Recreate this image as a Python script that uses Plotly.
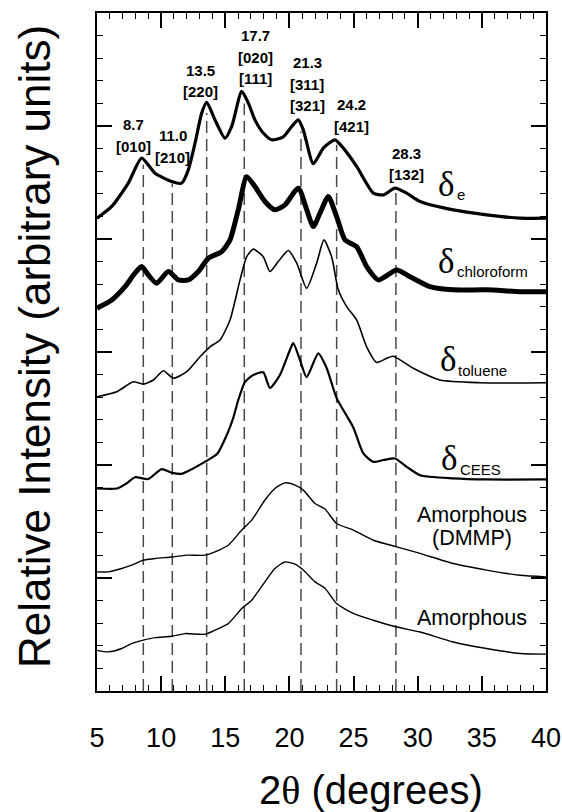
import plotly.graph_objects as go

# ---------------- data ----------------
# x = 2-theta (degrees); y = relative intensity (arbitrary units, stacked offsets)
de_x = [5.0, 6.15, 7.44, 8.48, 9.52, 10.82, 11.60, 12.12, 12.64, 13.16, 13.55, 14.20, 14.98,
        15.50, 16.28, 16.80, 17.31, 17.96, 18.62, 19.52, 20.18, 20.69, 21.08, 21.86, 22.64,
        23.55, 24.20, 25.24, 26.54, 27.32, 28.23, 29.14, 30.18, 32.77, 35.37, 37.97, 40.0]
de_y = [20.92, 21.44, 22.47, 23.58, 22.91, 22.54, 22.47, 23.06, 24.24, 25.57, 26.05, 25.27, 24.46,
        24.98, 26.53, 26.01, 25.27, 24.69, 24.39, 24.52, 24.98, 25.27, 24.83, 23.33, 24.02,
        24.39, 24.02, 23.21, 22.03, 21.95, 22.25, 22.03, 21.66, 21.29, 21.07, 20.92, 20.92]

chl_x = [5.0, 6.15, 7.18, 7.96, 8.48, 9.00, 9.65, 10.56, 11.34, 12.12, 12.90, 13.68, 14.72,
         15.37, 16.01, 16.67, 17.31, 18.09, 18.87, 19.65, 20.69, 21.35, 21.86, 22.38, 23.03,
         23.68, 24.33, 25.24, 26.02, 26.93, 28.36, 29.40, 30.95, 32.77, 35.37, 37.97, 40.0]
chl_y = [16.94, 17.30, 17.89, 18.49, 18.78, 18.41, 18.04, 18.56, 18.19, 18.19, 18.56, 19.15, 19.44,
         19.96, 21.29, 22.76, 22.32, 21.66, 21.29, 21.51, 22.25, 21.29, 20.55, 21.14, 21.88,
         20.99, 19.96, 19.66, 18.78, 18.19, 18.63, 18.33, 17.89, 17.75, 17.75, 17.67, 17.67]

tol_x = [5.0, 6.54, 7.83, 8.61, 9.39, 10.17, 10.95, 11.99, 13.03, 13.81, 14.59, 15.37, 16.15,
         16.67, 17.18, 17.96, 18.48, 19.13, 19.91, 20.57, 21.34, 22.12, 22.69, 23.29, 23.81,
         24.46, 25.24, 26.02, 26.80, 27.58, 28.09, 29.65, 31.73, 34.85, 40.0]
tol_y = [13.02, 13.24, 13.68, 13.58, 13.76, 14.17, 13.84, 14.13, 14.79, 15.23, 15.53, 16.42, 18.19,
         19.22, 19.55, 19.22, 18.56, 19.00, 19.49, 18.93, 17.82, 18.93, 19.96, 19.21, 17.75,
         17.01, 16.42, 15.23, 14.54, 14.72, 14.81, 14.28, 13.76, 13.64, 13.64]

cees_x = [5.0, 6.54, 7.31, 7.96, 9.00, 10.04, 10.82, 11.60, 12.51, 13.50, 14.39, 15.17, 15.62,
          16.01, 16.54, 17.18, 17.96, 18.48, 19.26, 20.04, 20.30, 20.82, 21.34, 22.25, 22.90,
          23.68, 24.98, 25.76, 26.54, 27.32, 28.23, 29.14, 30.18, 32.77, 35.37, 40.0]
cees_y = [8.96, 8.96, 9.19, 9.46, 9.38, 9.82, 9.66, 9.61, 9.85, 10.17, 10.51, 11.40, 12.08,
          12.87, 13.68, 13.98, 14.10, 13.41, 13.98, 15.09, 15.39, 14.65, 13.89, 14.94, 14.29,
          12.96, 11.66, 10.51, 10.14, 10.22, 10.29, 9.92, 9.55, 9.41, 9.36, 9.36]

dmmp_x = [5.0, 5.88, 6.93, 7.70, 8.61, 9.52, 10.82, 12.12, 13.42, 14.20, 15.23, 16.28, 17.06,
          18.09, 18.87, 19.65, 20.43, 21.08, 21.99, 22.77, 23.68, 24.98, 26.54, 28.36, 30.18,
          32.77, 35.37, 37.97, 40.0]
dmmp_y = [5.27, 5.27, 5.42, 5.57, 5.79, 5.86, 5.93, 6.01, 6.01, 6.16, 6.45, 7.12, 7.56,
          8.45, 8.96, 9.21, 9.11, 8.89, 8.30, 8.05, 7.41, 7.12, 6.67, 6.38, 6.09,
          5.64, 5.35, 5.12, 5.05]

amor_x = [5.0, 5.88, 6.93, 7.70, 8.61, 9.52, 10.82, 11.86, 13.42, 14.20, 15.23, 16.28, 17.06,
          18.09, 18.87, 19.65, 20.43, 21.08, 21.99, 22.77, 23.68, 24.98, 26.54, 28.36, 30.18,
          32.77, 35.37, 37.97, 40.0]
amor_y = [1.80, 1.73, 1.88, 2.10, 2.25, 2.36, 2.42, 2.54, 2.51, 2.69, 2.98, 3.65, 4.02,
          4.83, 5.42, 5.71, 5.61, 5.35, 4.83, 4.55, 3.87, 3.43, 3.13, 2.83, 2.61,
          2.17, 1.88, 1.66, 1.63]

# dashed reference lines: x position and top end
dash_x = [8.61, 10.87, 13.55, 16.48, 20.90, 23.68, 28.30]
dash_top = [23.28, 22.47, 25.57, 26.00, 24.76, 24.17, 22.03]

# peak labels (value, Miller indices) and their anchor positions
peak_text = [["8.7", "[010]"], ["11.0", "[210]"], ["13.5", "[220]"], ["17.7", "[020]", "[111]"],
             ["21.3", "[311]", "[321]"], ["24.2", "[421]"], ["28.3", "[132]"]]
peak_lab_x = [7.83, 10.90, 13.03, 17.37, 21.39, 24.85, 29.14]
peak_lab_y = [25.05, 24.57, 27.46, 28.99, 27.79, 25.94, 23.80]

# curve labels
delta_subs = ["e", "chloroform", "toluene", "CEES"]
delta_x = [32.28, 32.28, 32.38, 32.51]
delta_y = [22.43, 19.02, 14.65, 10.29]
amor_labels = ["Amorphous", "(DMMP)", "Amorphous"]
amor_lab_x = [34.2, 34.2, 34.2]
amor_lab_y = [7.78, 6.75, 3.21]

x_ticks = [5, 10, 15, 20, 25, 30, 35, 40]

# ---------------- figure ----------------
SANS = "Liberation Sans, Arial, Helvetica, sans-serif"
SERIF = "Liberation Serif, Times New Roman, serif"

fig = go.Figure()

for xv, top in zip(dash_x, dash_top):
    fig.add_trace(go.Scatter(x=[xv, xv], y=[0, top], mode="lines",
                             line=dict(color="#4a4a4a", width=1.5, dash="12px,6px"),
                             hoverinfo="skip", showlegend=False))

series = [
    (de_x, de_y, 3.2),
    (chl_x, chl_y, 5.0),
    (tol_x, tol_y, 1.6),
    (cees_x, cees_y, 2.2),
    (dmmp_x, dmmp_y, 1.4),
    (amor_x, amor_y, 1.4),
]
for xs, ys, w in series:
    fig.add_trace(go.Scatter(x=xs, y=ys, mode="lines",
                             line=dict(color="black", width=w, shape="spline", smoothing=0.6),
                             showlegend=False))

ann = []
for lines, xv, yv in zip(peak_text, peak_lab_x, peak_lab_y):
    for i, t in enumerate(lines):
        ann.append(dict(x=xv, y=yv - i * 0.95, xref="x", yref="y", text="<b>%s</b>" % t,
                        showarrow=False, font=dict(family=SANS, size=15, color="black"),
                        xanchor="center", yanchor="middle"))

for sub, xv, yv in zip(delta_subs, delta_x, delta_y):
    ann.append(dict(x=xv, y=yv, xref="x", yref="y", text="δ", showarrow=False,
                    font=dict(family=SERIF, size=35, color="black"),
                    xanchor="center", yanchor="middle"))
    ann.append(dict(x=xv + 0.62, y=yv - 0.47, xref="x", yref="y", text=sub, showarrow=False,
                    font=dict(family=SANS, size=15, color="black"),
                    xanchor="left", yanchor="middle"))

for t, xv, yv in zip(amor_labels, amor_lab_x, amor_lab_y):
    ann.append(dict(x=xv, y=yv, xref="x", yref="y", text=t, showarrow=False,
                    font=dict(family=SANS, size=21.5, color="black"),
                    xanchor="center", yanchor="middle"))

# axis titles
ann.append(dict(x=(35 - 97) / 449, y=(690.7 - 347) / 677.4, xref="paper", yref="paper",
                text="Relative Intensity (arbitrary units)", textangle=-90, showarrow=False,
                font=dict(family=SANS, size=44, color="black"),
                xanchor="center", yanchor="middle"))
ann.append(dict(x=(371 - 97) / 449, y=(690.7 - 790) / 677.4, xref="paper", yref="paper",
                text="2<span style=\"font-family:'Liberation Serif'\">θ</span> (degrees)",
                showarrow=False, font=dict(family=SANS, size=40, color="black"),
                xanchor="center", yanchor="middle"))

fig.update_layout(
    width=562, height=812,
    margin=dict(l=97, r=16, t=13, b=121, autoexpand=False),
    paper_bgcolor="white", plot_bgcolor="white",
    annotations=ann,
    xaxis=dict(range=[5, 40], tickvals=x_ticks, ticktext=[str(v) for v in x_ticks],
               ticks="inside", ticklen=15, tickwidth=1.5, tickcolor="black",
               minor=dict(dtick=1, ticks="inside", ticklen=6, tickwidth=1.2, tickcolor="black"),
               showline=True, linewidth=2, linecolor="black", mirror="allticks",
               showgrid=False, zeroline=False, automargin=False, ticklabelstandoff=22,
               tickfont=dict(family=SANS, size=27, color="black")),
    yaxis=dict(range=[0, 30], dtick=5, tick0=0, showticklabels=False,
               ticks="inside", ticklen=15, tickwidth=1.5, tickcolor="black",
               minor=dict(dtick=1, ticks="inside", ticklen=6, tickwidth=1.2, tickcolor="black"),
               showline=True, linewidth=2, linecolor="black", mirror="allticks",
               showgrid=False, zeroline=False, automargin=False),
)

fig.write_html("out.html")
